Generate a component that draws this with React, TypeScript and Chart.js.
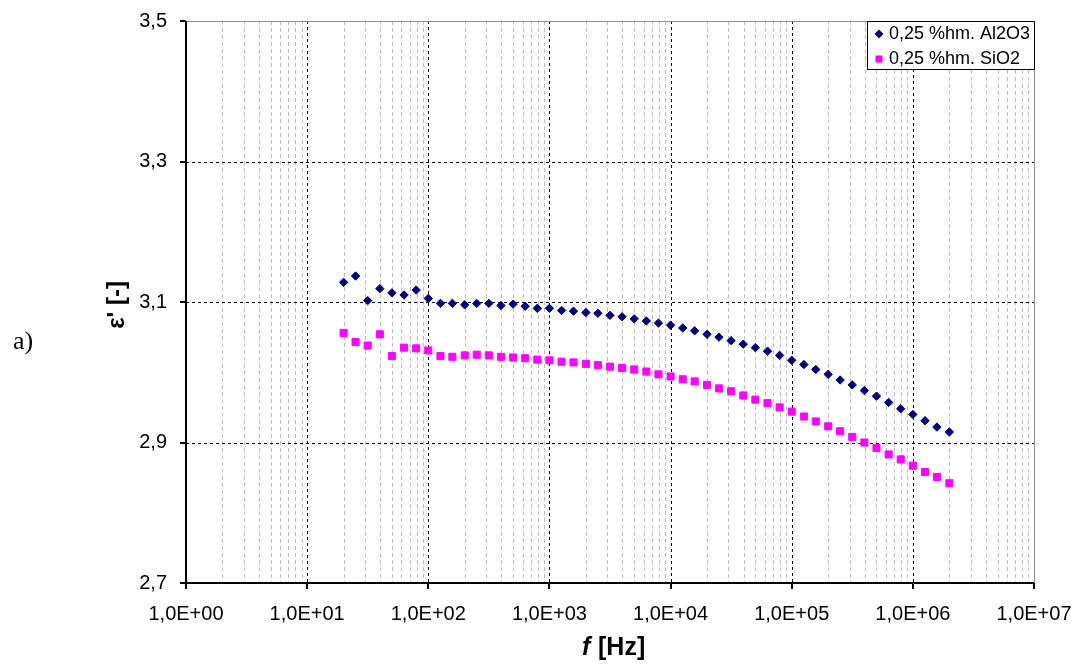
import React, { useEffect, useRef } from "react";
import { Chart, registerables } from "chart.js";

Chart.register(...registerables);

// ---------- data ----------
const frequencies = [
  20, 25.1, 31.6, 39.8, 50.1, 63.1, 79.4,
  100, 126, 158, 200, 251, 316, 398, 501, 631, 794,
  1000, 1260, 1580, 2000, 2510, 3160, 3980, 5010, 6310, 7940,
  10000, 12600, 15800, 20000, 25100, 31600, 39800, 50100, 63100, 79400,
  100000, 126000, 158000, 200000, 251000, 316000, 398000, 501000, 631000, 794000,
  1000000, 1260000, 1580000, 2000000,
];

const al2o3 = [
  3.128, 3.137, 3.102, 3.119, 3.113, 3.110, 3.117,
  3.105, 3.098, 3.098, 3.096, 3.098, 3.098, 3.095, 3.097, 3.094, 3.091,
  3.091, 3.088, 3.087, 3.085, 3.084, 3.081, 3.079, 3.076, 3.073, 3.070,
  3.067, 3.063, 3.059, 3.054, 3.050, 3.045, 3.040, 3.035, 3.030, 3.024,
  3.017, 3.011, 3.004, 2.997, 2.989, 2.982, 2.974, 2.966, 2.957, 2.948,
  2.940, 2.931, 2.922, 2.915,
];

const sio2 = [
  3.056, 3.043, 3.038, 3.054, 3.023, 3.035, 3.034,
  3.031, 3.023, 3.022, 3.024, 3.025, 3.024, 3.022, 3.021, 3.020, 3.018,
  3.017, 3.015, 3.014, 3.012, 3.010, 3.008, 3.006, 3.004, 3.001, 2.997,
  2.994, 2.990, 2.987, 2.982, 2.977, 2.973, 2.967, 2.961, 2.956, 2.950,
  2.944, 2.937, 2.930, 2.923, 2.916, 2.908, 2.900, 2.892, 2.883, 2.876,
  2.867, 2.858, 2.851, 2.842,
];

const seriesLabels = ["0,25 %hm. Al2O3", "0,25 %hm. SiO2"];
const seriesColors = ["#000080", "#FF00FF"];
const xTickValues = [1, 10, 100, 1000, 10000, 100000, 1000000, 10000000];
const yTickValues = [2.7, 2.9, 3.1, 3.3, 3.5];
const xTitleItalic = "f";
const xTitleRest = "[Hz]";
const yTitle = "ε' [-]";
const panelLabel = "a)";

const FONT = "'Liberation Sans', Arial, sans-serif";
const SERIF = "'Liberation Serif', 'Times New Roman', serif";

function fmtExp(v: number): string {
  const e = Math.round(Math.log10(v));
  const s = e < 0 ? "-" : "+";
  const a = Math.abs(e);
  return "1,0E" + s + (a < 10 ? "0" + a : String(a));
}

function zeroPad(s: any) {
  s.paddingTop = 0;
  s.paddingBottom = 0;
  s.paddingLeft = 0;
  s.paddingRight = 0;
}

const decoPlugin = {
  id: "deco",
  beforeDatasetsDraw(chart: any) {
    const { ctx, chartArea: a, scales } = chart;
    const x = scales.x;
    const y = scales.y;
    ctx.save();
    ctx.lineWidth = 1;
    // minor vertical gridlines
    ctx.strokeStyle = "#bcbcbc";
    ctx.setLineDash([4, 3]);
    for (let i = 0; i < xTickValues.length - 1; i++) {
      const d = xTickValues[i];
      for (let m = 2; m < 10; m++) {
        const px = Math.round(x.getPixelForValue(d * m)) + 0.5;
        ctx.beginPath();
        ctx.moveTo(px, a.top);
        ctx.lineTo(px, a.bottom);
        ctx.stroke();
      }
    }
    // major vertical gridlines
    ctx.strokeStyle = "#000";
    ctx.setLineDash([3, 3]);
    for (let i = 1; i < xTickValues.length - 1; i++) {
      const px = Math.round(x.getPixelForValue(xTickValues[i])) + 0.5;
      ctx.beginPath();
      ctx.moveTo(px, a.top);
      ctx.lineTo(px, a.bottom);
      ctx.stroke();
    }
    // horizontal gridlines
    for (let i = 1; i < yTickValues.length - 1; i++) {
      const py = Math.round(y.getPixelForValue(yTickValues[i])) + 0.5;
      ctx.beginPath();
      ctx.moveTo(a.left, py);
      ctx.lineTo(a.right, py);
      ctx.stroke();
    }
    // top and right border
    ctx.setLineDash([]);
    ctx.strokeStyle = "#8c8c8c";
    ctx.beginPath();
    ctx.moveTo(a.left, Math.round(a.top) + 0.5);
    ctx.lineTo(Math.round(a.right) + 0.5, Math.round(a.top) + 0.5);
    ctx.lineTo(Math.round(a.right) + 0.5, a.bottom);
    ctx.stroke();
    ctx.restore();
  },
  afterDraw(chart: any) {
    const { ctx, chartArea: a, scales } = chart;
    const x = scales.x;
    const y = scales.y;
    ctx.save();
    ctx.strokeStyle = "#000";
    ctx.lineWidth = 2;
    ctx.setLineDash([]);
    const L = Math.round(a.left);
    const B = Math.round(a.bottom);
    // axes
    ctx.beginPath();
    ctx.moveTo(L, Math.round(a.top));
    ctx.lineTo(L, B + 1);
    ctx.moveTo(L - 1, B);
    ctx.lineTo(Math.round(a.right), B);
    ctx.stroke();
    // tick marks
    ctx.beginPath();
    for (const v of yTickValues) {
      const py = Math.round(y.getPixelForValue(v));
      ctx.moveTo(L - 6, py);
      ctx.lineTo(L, py);
    }
    for (const v of xTickValues) {
      const px = Math.round(x.getPixelForValue(v));
      ctx.moveTo(px, B);
      ctx.lineTo(px, B + 6);
    }
    ctx.stroke();

    // legend
    const lw = 168, lh = 49;
    const lx = Math.round(a.right) + 1 - lw, ly = Math.round(a.top);
    ctx.fillStyle = "#fff";
    ctx.fillRect(lx, ly, lw, lh);
    ctx.lineWidth = 1;
    ctx.strokeStyle = "#000";
    ctx.strokeRect(lx + 0.5, ly + 0.5, lw - 1, lh - 1);
    const rows = [ly + 13, ly + 38];
    const mx = lx + 12;
    // diamond
    ctx.fillStyle = seriesColors[0];
    ctx.beginPath();
    ctx.moveTo(mx, rows[0] - 4.5);
    ctx.lineTo(mx + 4.5, rows[0]);
    ctx.lineTo(mx, rows[0] + 4.5);
    ctx.lineTo(mx - 4.5, rows[0]);
    ctx.closePath();
    ctx.fill();
    // square
    ctx.fillStyle = seriesColors[1];
    ctx.fillRect(mx - 3.5, rows[1] - 3.5, 7, 7);
    ctx.fillStyle = "#000";
    ctx.font = `18px ${FONT}`;
    ctx.textAlign = "left";
    ctx.textBaseline = "middle";
    ctx.fillText(seriesLabels[0], lx + 22, rows[0]);
    ctx.fillText(seriesLabels[1], lx + 22, rows[1]);

    // x title
    ctx.textBaseline = "alphabetic";
    ctx.font = `italic bold 25px ${FONT}`;
    ctx.fillText(xTitleItalic, 582, 655);
    ctx.font = `bold 25px ${FONT}`;
    ctx.fillText(xTitleRest, 598, 655);

    // y title
    ctx.save();
    ctx.translate(124, 305);
    ctx.rotate(-Math.PI / 2);
    ctx.textAlign = "center";
    ctx.font = `bold 24px ${FONT}`;
    ctx.fillText(yTitle, 0, 0);
    ctx.restore();

    // panel label
    ctx.font = `26px ${SERIF}`;
    ctx.textAlign = "left";
    ctx.fillText(panelLabel, 13, 349);
    ctx.restore();
  },
};

export default function App() {
  const ref = useRef<HTMLCanvasElement | null>(null);
  useEffect(() => {
    if (!ref.current) return;
    const chart = new Chart(ref.current, {
      type: "scatter",
      data: {
        datasets: [
          {
            label: seriesLabels[0],
            data: frequencies.map((f, i) => ({ x: f, y: al2o3[i] })),
            pointStyle: "rectRot",
            radius: 4.2,
            borderWidth: 1,
            backgroundColor: seriesColors[0],
            borderColor: seriesColors[0],
            showLine: false,
          },
          {
            label: seriesLabels[1],
            data: frequencies.map((f, i) => ({ x: f, y: sio2[i] })),
            pointStyle: "rect",
            radius: 5,
            borderWidth: 1,
            backgroundColor: seriesColors[1],
            borderColor: seriesColors[1],
            showLine: false,
          },
        ],
      },
      options: {
        responsive: false,
        maintainAspectRatio: false,
        animation: false,
        layout: { padding: { left: 0, right: 43, top: 21, bottom: 0 } },
        plugins: { legend: { display: false }, tooltip: { enabled: false } },
        scales: {
          x: {
            type: "logarithmic",
            min: 1,
            max: 10000000,
            grid: { display: false, drawTicks: false },
            border: { display: false },
            afterBuildTicks: (s: any) => {
              s.ticks = xTickValues.map((v) => ({ value: v, major: true }));
            },
            afterFit: (s: any) => {
              s.height = 83;
              zeroPad(s);
            },
            ticks: {
              autoSkip: false,
              maxRotation: 0,
              minRotation: 0,
              padding: 19,
              color: "#000",
              font: { size: 20, family: FONT },
              callback: (v: any) => fmtExp(Number(v)),
            },
          },
          y: {
            type: "linear",
            min: 2.7,
            max: 3.5,
            grid: { display: false, drawTicks: false },
            border: { display: false },
            afterBuildTicks: (s: any) => {
              s.ticks = yTickValues.map((v) => ({ value: v }));
            },
            afterFit: (s: any) => {
              s.width = 186;
              zeroPad(s);
            },
            ticks: {
              padding: 19,
              color: "#000",
              font: { size: 20, family: FONT },
              callback: (v: any) => Number(v).toFixed(1).replace(".", ","),
            },
          },
        },
      },
      plugins: [decoPlugin],
    } as any);
    return () => chart.destroy();
  }, []);
  return (
    <div style={{ position: "absolute", left: 0, top: 0, width: 1077, height: 666, background: "#fff" }}>
      <canvas ref={ref} width={1077} height={666} style={{ display: "block" }} />
    </div>
  );
}
